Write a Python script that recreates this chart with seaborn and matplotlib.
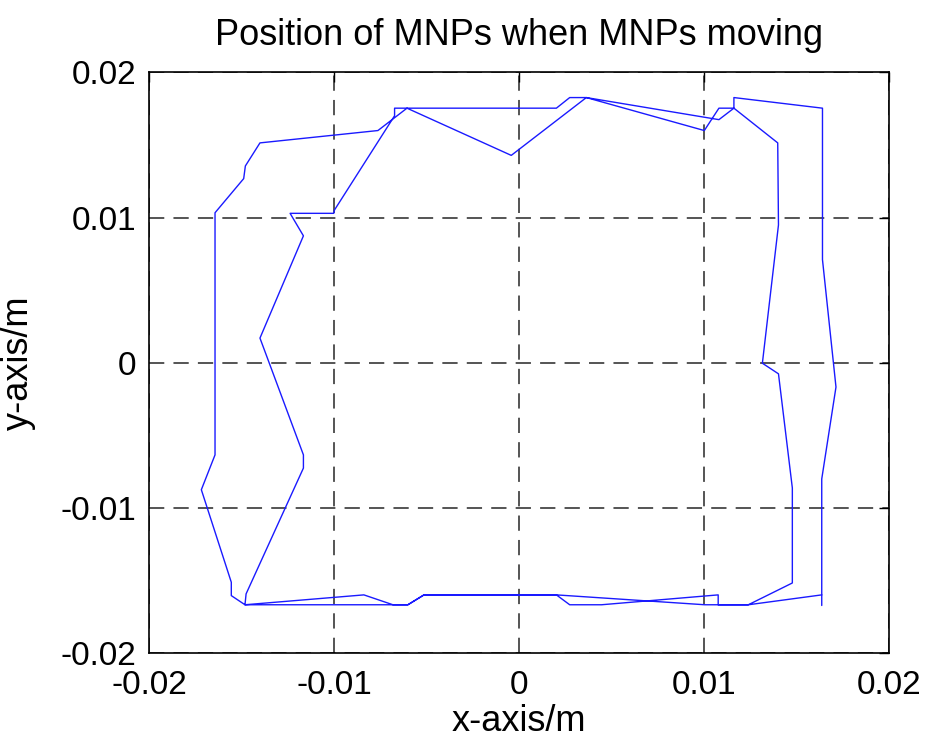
import matplotlib
matplotlib.use("Agg")
import matplotlib.pyplot as plt
import seaborn as sns
import pandas as pd
import numpy as np

# Trajectory of the MNPs (two laps), in path order
x_pos = [0.01638, 0.01241, 0.01078, 0.01078, 0.00447, 0.00275, 0.00203, -0.00513, -0.00600, -0.01481,
         -0.01555, -0.01555, -0.01717, -0.01643, -0.01643, -0.01488, -0.01479, -0.01400, -0.00762, -0.00605,
         -0.00041, 0.00365, 0.01003, 0.01082, 0.01163, 0.01400, 0.01404, 0.01317, 0.01404, 0.01479,
         0.01479, 0.01241, 0.01006, 0.00203, -0.00513, -0.00600, -0.00681, -0.00838, -0.01481, -0.01475,
         -0.01165, -0.01165, -0.01400, -0.01165, -0.01237, -0.01001, -0.00997, -0.00672, -0.00672, 0.00203,
         0.00275, 0.00365, 0.01082, 0.01163, 0.01163, 0.01642, 0.01642, 0.01715, 0.01638, 0.01638]
y_pos = [-0.01598, -0.01666, -0.01666, -0.01598, -0.01666, -0.01666, -0.01598, -0.01598, -0.01666, -0.01666,
         -0.01603, -0.01511, -0.00874, -0.00634, 0.01033, 0.01268, 0.01355, 0.01514, 0.01599, 0.01753,
         0.01428, 0.01826, 0.01599, 0.01753, 0.01753, 0.01514, 0.00949, -0.00003, -0.00076, -0.00862,
         -0.01516, -0.01666, -0.01666, -0.01598, -0.01598, -0.01666, -0.01666, -0.01598, -0.01666, -0.01591,
         -0.00725, -0.00634, 0.00170, 0.00874, 0.01029, 0.01029, 0.01052, 0.01701, 0.01753, 0.01753,
         0.01826, 0.01826, 0.01674, 0.01753, 0.01826, 0.01753, 0.00710, -0.00167, -0.00800, -0.01671]

tick_vals = [-0.02, -0.01, 0, 0.01, 0.02]
tick_labels = ["-0.02", "-0.01", "0", "0.01", "0.02"]

title = "Position of MNPs when MNPs moving"
xlabel = "x-axis/m"
ylabel = "y-axis/m"

sns.set_style("white")
plt.rcParams["font.family"] = ["Liberation Sans", "DejaVu Sans"]
plt.rcParams["text.color"] = "black"
plt.rcParams["axes.labelcolor"] = "black"

df = pd.DataFrame({"step": np.arange(len(x_pos)), "x": x_pos, "y": y_pos})

fig = plt.figure(figsize=(9.29, 7.40), dpi=100)
ax = fig.add_axes([0.1604, 0.1172, 0.7962, 0.7851])

sns.lineplot(data=df, x="x", y="y", sort=False, estimator=None, color="#1a1aff",
             linewidth=1.0, ax=ax)

ax.set_xlim(-0.02, 0.02)
ax.set_ylim(-0.02, 0.02)
ax.set_xticks(tick_vals)
ax.set_yticks(tick_vals)
ax.set_xticklabels(tick_labels, fontsize=24)
ax.set_yticklabels(tick_labels, fontsize=24)
ax.tick_params(direction="in", length=7, width=1, top=True, right=True, colors="black")
ax.tick_params(axis="x", pad=12)
ax.tick_params(axis="y", pad=9)
ax.grid(True, color="black", linestyle=(0, (10, 6)), linewidth=1.1, alpha=0.85)
for s in ax.spines.values():
    s.set_visible(True)
    s.set_color("black")
    s.set_linewidth(1.2)

ax.set_title(title, fontsize=26, pad=20, color="black")
ax.set_xlabel(xlabel, fontsize=26, labelpad=2)
ax.set_ylabel(ylabel, fontsize=26, labelpad=18)

fig.savefig("out.png", dpi=100, facecolor="white")
